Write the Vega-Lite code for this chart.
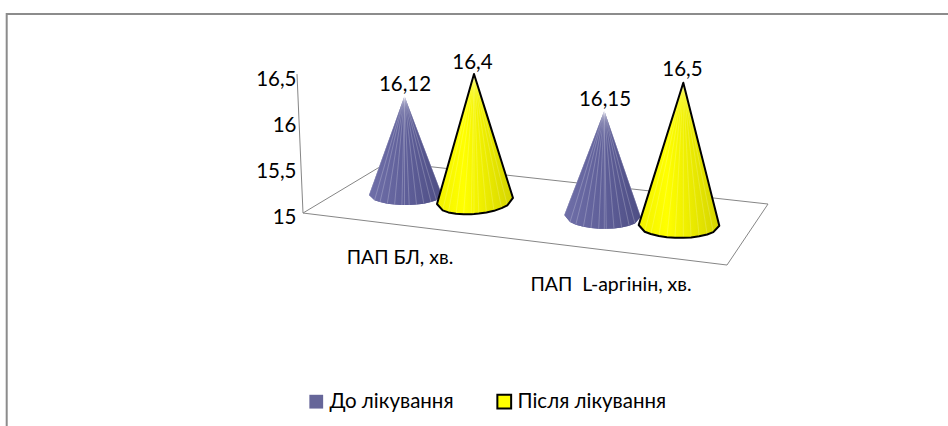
{
"$schema":"https://vega.github.io/schema/vega-lite/v6.json",
"width":948,"height":426,"padding":0,"autosize":{"type":"none"},
"background":"white",
"config":{"view":{"stroke":null}},
"resolve":{"axis":{"y":"independent"}},
"datasets":{
"lines":[
{"shape":"frame","i":1,"x":6.7,"y":12.728},{"shape":"frame","i":2,"x":6.7,"y":17.207},{"shape":"frame","i":3,"x":948,"y":17.207},
{"shape":"floor","i":1,"x":303,"y":15.043},{"shape":"floor","i":2,"x":727,"y":14.478},{"shape":"floor","i":3,"x":768,"y":15.141},{"shape":"floor","i":4,"x":388,"y":15.598},{"shape":"floor","i":5,"x":303,"y":15.043},
{"shape":"wall","i":1,"x":297,"y":16.554},{"shape":"wall","i":2,"x":303,"y":15.043}
],
"apices":[
{"cone":"c1","apexX":404.5,"apexY":16.315},
{"cone":"c2","apexX":474,"apexY":16.554},
{"cone":"c3","apexX":604.3,"apexY":16.155},
{"cone":"c4","apexX":683.3,"apexY":16.46}
],
"cones":[
{"cone":"c1","series":"До лікування","x":369,"top":15.239,"bottom":15.239},
{"cone":"c1","series":"До лікування","x":374.5,"top":15.405,"bottom":15.182},
{"cone":"c1","series":"До лікування","x":380,"top":15.573,"bottom":15.162},
{"cone":"c1","series":"До лікування","x":387.3,"top":15.793,"bottom":15.145},
{"cone":"c1","series":"До лікування","x":394.6,"top":16.015,"bottom":15.136},
{"cone":"c1","series":"До лікування","x":401.9,"top":16.236,"bottom":15.13},
{"cone":"c1","series":"До лікування","x":404.5,"top":16.315,"bottom":15.13},
{"cone":"c1","series":"До лікування","x":409.2,"top":16.18,"bottom":15.13},
{"cone":"c1","series":"До лікування","x":416.5,"top":15.971,"bottom":15.136},
{"cone":"c1","series":"До лікування","x":423.8,"top":15.761,"bottom":15.145},
{"cone":"c1","series":"До лікування","x":431,"top":15.554,"bottom":15.162},
{"cone":"c1","series":"До лікування","x":436.5,"top":15.397,"bottom":15.182},
{"cone":"c1","series":"До лікування","x":442,"top":15.239,"bottom":15.239},
{"cone":"c2","series":"Після лікування","x":437,"top":15.141,"bottom":15.141},
{"cone":"c2","series":"Після лікування","x":442.7,"top":15.359,"bottom":15.072},
{"cone":"c2","series":"Після лікування","x":448.4,"top":15.576,"bottom":15.05},
{"cone":"c2","series":"Після лікування","x":456,"top":15.866,"bottom":15.035},
{"cone":"c2","series":"Після лікування","x":463.6,"top":16.158,"bottom":15.029},
{"cone":"c2","series":"Після лікування","x":471.2,"top":16.448,"bottom":15.03},
{"cone":"c2","series":"Після лікування","x":474,"top":16.554,"bottom":15.032},
{"cone":"c2","series":"Після лікування","x":478.8,"top":16.388,"bottom":15.037},
{"cone":"c2","series":"Після лікування","x":486.4,"top":16.126,"bottom":15.049},
{"cone":"c2","series":"Після лікування","x":494,"top":15.863,"bottom":15.067},
{"cone":"c2","series":"Після лікування","x":501.6,"top":15.601,"bottom":15.096},
{"cone":"c2","series":"Після лікування","x":507.3,"top":15.403,"bottom":15.127},
{"cone":"c2","series":"Після лікування","x":513,"top":15.207,"bottom":15.207},
{"cone":"c3","series":"До лікування","x":564.3,"top":15.022,"bottom":15.022},
{"cone":"c3","series":"До лікування","x":570,"top":15.184,"bottom":14.946},
{"cone":"c3","series":"До лікування","x":575.8,"top":15.348,"bottom":14.917},
{"cone":"c3","series":"До лікування","x":583.4,"top":15.563,"bottom":14.895},
{"cone":"c3","series":"До лікування","x":591,"top":15.778,"bottom":14.88},
{"cone":"c3","series":"До лікування","x":598.7,"top":15.997,"bottom":14.873},
{"cone":"c3","series":"До лікування","x":604.3,"top":16.155,"bottom":14.871},
{"cone":"c3","series":"До лікування","x":606.3,"top":16.092,"bottom":14.872},
{"cone":"c3","series":"До лікування","x":614,"top":15.849,"bottom":14.875},
{"cone":"c3","series":"До лікування","x":621.6,"top":15.608,"bottom":14.885},
{"cone":"c3","series":"До лікування","x":629.2,"top":15.367,"bottom":14.905},
{"cone":"c3","series":"До лікування","x":635,"top":15.184,"bottom":14.93},
{"cone":"c3","series":"До лікування","x":640.7,"top":15.003,"bottom":15.003},
{"cone":"c4","series":"Після лікування","x":638.7,"top":14.913,"bottom":14.913},
{"cone":"c4","series":"Після лікування","x":644.7,"top":15.121,"bottom":14.84},
{"cone":"c4","series":"Після лікування","x":650.8,"top":15.333,"bottom":14.815},
{"cone":"c4","series":"Після лікування","x":658.9,"top":15.613,"bottom":14.793},
{"cone":"c4","series":"Після лікування","x":666.9,"top":15.891,"bottom":14.78},
{"cone":"c4","series":"Після лікування","x":675,"top":16.172,"bottom":14.775},
{"cone":"c4","series":"Після лікування","x":683.3,"top":16.46,"bottom":14.774},
{"cone":"c4","series":"Після лікування","x":691.1,"top":16.123,"bottom":14.778},
{"cone":"c4","series":"Після лікування","x":699.2,"top":15.773,"bottom":14.79},
{"cone":"c4","series":"Після лікування","x":707.2,"top":15.428,"bottom":14.81},
{"cone":"c4","series":"Після лікування","x":713.3,"top":15.164,"bottom":14.835},
{"cone":"c4","series":"Після лікування","x":719.3,"top":14.905,"bottom":14.905}
],
"valueLabels":[
{"label":"16,12","x":405,"y":16.435},
{"label":"16,4","x":472.5,"y":16.674},
{"label":"16,15","x":605,"y":16.272},
{"label":"16,5","x":682.5,"y":16.598}
],
"categoryLabels":[
{"label":"ПАП БЛ, хв.","x":400,"y":14.554},
{"label":"ПАП\u00a0\u00a0L-аргінін, хв.","x":611,"y":14.261}
]
},
"layer":[
{"data":{"name":"lines"},"transform":[{"filter":{"field":"shape","equal":"frame"}}],
 "mark":{"type":"line","stroke":"#8c8c8c","strokeWidth":2,"clip":false},
 "encoding":{
  "x":{"field":"x","type":"quantitative","scale":{"domain":[0,948],"nice":false,"zero":false},"axis":null},
  "y":{"field":"y","type":"quantitative","scale":{"domain":[12.728,17.359],"nice":false,"zero":false},
   "axis":{"orient":"left","offset":-297,"title":null,"values":[15,15.5,16,16.5],"labelExpr":"replace(''+datum.value,'.',',')","domain":false,"ticks":false,"grid":false,"labelPadding":1,"labelFont":"Lato","labelFontSize":20.5,"labelColor":"#000","labelFontWeight":"normal"}},
  "detail":{"field":"shape"},"order":{"field":"i"}}},
{"data":{"name":"lines"},"transform":[{"filter":{"field":"shape","oneOf":["floor","wall"]}}],
 "mark":{"type":"line","stroke":"#868686","strokeWidth":1},
 "encoding":{
  "x":{"field":"x","type":"quantitative","scale":{"domain":[0,948],"nice":false,"zero":false},"axis":null},
  "y":{"field":"y","type":"quantitative","scale":{"domain":[12.728,17.359],"nice":false,"zero":false},"axis":null},
  "detail":{"field":"shape"},"order":{"field":"i"}}},
{"data":{"name":"cones"},"transform":[{"filter":{"field":"series","equal":"До лікування"}}],
 "mark":{"type":"area","orient":"vertical","strokeWidth":2},
 "encoding":{
  "x":{"field":"x","type":"quantitative","scale":{"domain":[0,948],"nice":false,"zero":false},"axis":null},
  "y":{"field":"top","type":"quantitative","scale":{"domain":[12.728,17.359],"nice":false,"zero":false},"axis":null},
  "y2":{"field":"bottom"},
  "detail":{"field":"cone"},
  "fill":{"field":"series","type":"nominal","scale":{"domain":["До лікування","Після лікування"],"range":["#666699","#FFFF00"]},
   "legend":{"orient":"none","legendX":306,"legendY":391,"direction":"horizontal","title":null,"symbolType":"square","symbolSize":190,"symbolStrokeWidth":2,"symbolOpacity":1,"labelFont":"Lato","labelFontSize":20.5,"labelColor":"#000","columnPadding":39,"labelOffset":3}},
  "stroke":{"field":"series","type":"nominal","scale":{"domain":["До лікування","Після лікування"],"range":["transparent","#000000"]},
   "legend":{"orient":"none","legendX":306,"legendY":391,"direction":"horizontal","title":null,"symbolType":"square","symbolSize":190,"symbolStrokeWidth":2,"symbolOpacity":1,"labelFont":"Lato","labelFontSize":20.5,"labelColor":"#000","columnPadding":39,"labelOffset":3}}}},
{"data":{"name":"cones"},"transform":[{"filter":{"field":"series","equal":"До лікування"}}],
 "mark":{"type":"area","orient":"vertical","fill":{"gradient":"linear","x1":0,"x2":1,"y1":0,"y2":0,"stops":[{"offset":0,"color":"#6f6fa8"},{"offset":0.5,"color":"#5f5f99"},{"offset":1,"color":"#4e4e84"}]}},
 "encoding":{
  "x":{"field":"x","type":"quantitative","scale":{"domain":[0,948],"nice":false,"zero":false},"axis":null},
  "y":{"field":"top","type":"quantitative","scale":{"domain":[12.728,17.359],"nice":false,"zero":false},"axis":null},
  "y2":{"field":"bottom"},
  "detail":{"field":"cone"}}},
{"data":{"name":"cones"},"transform":[{"filter":{"field":"series","equal":"До лікування"}},{"lookup":"cone","from":{"data":{"name":"apices"},"key":"cone","fields":["apexX","apexY"]}}],
 "mark":{"type":"rule","stroke":"#ffffff","strokeOpacity":0.22,"strokeWidth":1},
 "encoding":{
  "x":{"field":"x","type":"quantitative","scale":{"domain":[0,948],"nice":false,"zero":false},"axis":null},
  "y":{"field":"bottom","type":"quantitative","scale":{"domain":[12.728,17.359],"nice":false,"zero":false},"axis":null},
  "x2":{"field":"apexX"},"y2":{"field":"apexY"}}},
{"data":{"name":"cones"},"transform":[{"filter":{"field":"series","equal":"Після лікування"}}],
 "mark":{"type":"area","orient":"vertical","fill":{"gradient":"linear","x1":0,"x2":1,"y1":0,"y2":0,"stops":[{"offset":0,"color":"#f2f200"},{"offset":0.35,"color":"#ffff00"},{"offset":0.6,"color":"#eeee00"},{"offset":1,"color":"#d4d400"}]}},
 "encoding":{
  "x":{"field":"x","type":"quantitative","scale":{"domain":[0,948],"nice":false,"zero":false},"axis":null},
  "y":{"field":"top","type":"quantitative","scale":{"domain":[12.728,17.359],"nice":false,"zero":false},"axis":null},
  "y2":{"field":"bottom"},
  "detail":{"field":"cone"}}},
{"data":{"name":"cones"},"transform":[{"filter":{"field":"series","equal":"Після лікування"}},{"lookup":"cone","from":{"data":{"name":"apices"},"key":"cone","fields":["apexX","apexY"]}}],
 "mark":{"type":"rule","stroke":"#ffffff","strokeOpacity":0.18,"strokeWidth":1},
 "encoding":{
  "x":{"field":"x","type":"quantitative","scale":{"domain":[0,948],"nice":false,"zero":false},"axis":null},
  "y":{"field":"bottom","type":"quantitative","scale":{"domain":[12.728,17.359],"nice":false,"zero":false},"axis":null},
  "x2":{"field":"apexX"},"y2":{"field":"apexY"}}},
{"data":{"name":"cones"},"transform":[{"filter":{"field":"series","equal":"Після лікування"}}],
 "mark":{"type":"area","orient":"vertical","strokeWidth":2,"stroke":"#000000","fillOpacity":0,"strokeJoin":"round"},
 "encoding":{
  "x":{"field":"x","type":"quantitative","scale":{"domain":[0,948],"nice":false,"zero":false},"axis":null},
  "y":{"field":"top","type":"quantitative","scale":{"domain":[12.728,17.359],"nice":false,"zero":false},"axis":null},
  "y2":{"field":"bottom"},
  "detail":{"field":"cone"},
  "fill":{"field":"series","type":"nominal","scale":{"domain":["До лікування","Після лікування"],"range":["#666699","#FFFF00"]},
   "legend":{"orient":"none","legendX":306,"legendY":391,"direction":"horizontal","title":null,"symbolType":"square","symbolSize":190,"symbolStrokeWidth":2,"symbolOpacity":1,"labelFont":"Lato","labelFontSize":20.5,"labelColor":"#000","columnPadding":39,"labelOffset":3}}}},
{"data":{"name":"valueLabels"},
 "mark":{"type":"text","font":"Lato","fontSize":20.5,"color":"#000","align":"center","baseline":"middle"},
 "encoding":{
  "x":{"field":"x","type":"quantitative","scale":{"domain":[0,948],"nice":false,"zero":false},"axis":null},
  "y":{"field":"y","type":"quantitative","scale":{"domain":[12.728,17.359],"nice":false,"zero":false},"axis":null},
  "text":{"field":"label"}}},
{"data":{"name":"categoryLabels"},
 "mark":{"type":"text","font":"Lato","fontSize":19.5,"color":"#000","align":"center","baseline":"middle"},
 "encoding":{
  "x":{"field":"x","type":"quantitative","scale":{"domain":[0,948],"nice":false,"zero":false},"axis":null},
  "y":{"field":"y","type":"quantitative","scale":{"domain":[12.728,17.359],"nice":false,"zero":false},"axis":null},
  "text":{"field":"label"}}}
]
}
